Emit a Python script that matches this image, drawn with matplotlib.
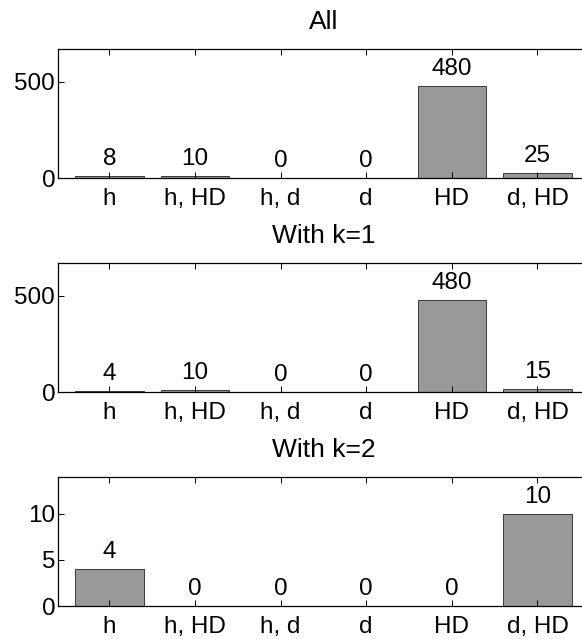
import numpy as np
import matplotlib.pyplot as plt

plt.rcParams['font.family'] = ['Liberation Sans', 'DejaVu Sans']

# categorias y conteos por panel
categorias = ["h", "h, HD", "h, d", "d", "HD", "d, HD"]
titulos = ["All", "With k=1", "With k=2"]
todos = [8, 10, 0, 0, 480, 25]
con_k1 = [4, 10, 0, 0, 480, 15]
con_k2 = [4, 0, 0, 0, 0, 10]
series = [todos, con_k1, con_k2]

fig = plt.figure(figsize=(5.82, 6.39), dpi=100)

# posiciones de los ejes (en fraccion de figura)
izq, ancho = 0.0997, 0.912
bases = [0.7214, 0.3865, 0.0516]
alto = 0.202

x = np.arange(1, len(categorias) + 1)
for titulo, valores, base in zip(titulos, series, bases):
    ax = fig.add_axes([izq, base, ancho, alto])
    ax.bar(x, valores, width=0.8, color="#999999", edgecolor="#222222", linewidth=0.6)
    ymax = max(valores) * 1.4
    ax.set_xlim(0.4, 6.6)
    ax.set_ylim(0, ymax)
    for xi, v in zip(x, valores):
        ax.annotate(str(v), (xi, v), xytext=(0, 4.5), textcoords="offset points",
                    ha="center", va="bottom", fontsize=17.5)
    ax.set_xticks(x)
    ax.set_xticklabels(categorias)
    if ymax > 100:
        ax.set_yticks([0, 500])
    else:
        ax.set_yticks([0, 5, 10])
    ax.tick_params(direction="in", length=4, width=0.7, labelsize=17.5,
                   top=True, right=True, pad=7)
    ax.tick_params(axis="y", pad=2)
    for s in ax.spines.values():
        s.set_linewidth(0.9)
    ax.set_title(titulo, fontsize=19, pad=14.5)

plt.savefig("out.png", dpi=100)
